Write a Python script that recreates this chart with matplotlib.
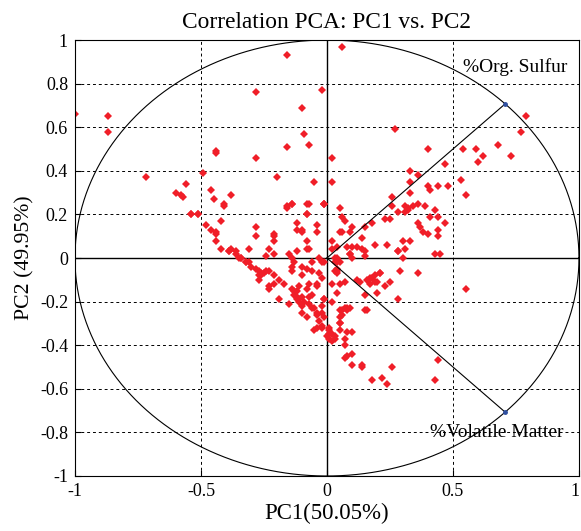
import numpy as np
import matplotlib.pyplot as plt
from matplotlib.transforms import ScaledTranslation

plt.rcParams['font.family'] = ['Liberation Serif', 'DejaVu Serif']

# scores (PC1, PC2)
pc1 = [
    -1.00, -0.87, -0.87, -0.72, -0.60, -0.58, -0.57, -0.56, -0.54, -0.51,
    -0.49, -0.46, -0.45, -0.44, -0.44, -0.41, -0.38, -0.28, -0.28, -0.20,
    -0.16, -0.16, -0.16, -0.14, -0.10, -0.09, -0.07, -0.08, -0.05, -0.02,
    -0.01, -0.08, -0.10,
    0.06, 0.27, 0.40, 0.54, 0.59, 0.62, 0.60, 0.68, 0.73, 0.77,
    0.79, 0.02, 0.02, -0.01, 0.05, 0.06, 0.07, 0.06, 0.05, 0.09,
    0.10, 0.02, 0.04, 0.02, 0.08, 0.10, 0.12, 0.14, 0.09, 0.15,
    0.10, 0.15, 0.14, 0.18, 0.19, 0.23, 0.25, 0.26, 0.26, 0.28,
    0.24, 0.28, 0.31, 0.32, 0.32, 0.31, 0.30, 0.33, 0.31, 0.33,
    0.33, 0.33, 0.36, 0.34, 0.36, 0.37, 0.38, 0.36, 0.40, 0.39,
    0.40, 0.41, 0.44, 0.41, 0.43, 0.44, 0.44, 0.44, 0.47, 0.48,
    0.47, 0.53, 0.55, 0.45,
    -0.01, 0.03, 0.04, 0.04, 0.05, 0.03, 0.04, 0.09, 0.15, 0.28,
    0.30, 0.43, -0.02, 0.05, 0.07, 0.12, 0.13, 0.17, 0.18, 0.19,
    0.17, 0.19, 0.20, 0.21, 0.16, 0.21, 0.23, 0.25, 0.29, 0.36,
    0.55, 0.15, 0.20, 0.28, -0.01, -0.02, 0.05, 0.08, 0.09, 0.15,
    0.16, -0.02, 0.05, 0.05, 0.08, 0.07, 0.10, 0.07, 0.10, 0.07,
    0.08, 0.10, 0.14, 0.14, 0.26, 0.44, 0.18, 0.22, 0.24, 0.43,
    -0.54, -0.51, -0.41, -0.48, -0.46, -0.44, -0.44, -0.44, -0.42, -0.42,
    -0.39, -0.38, -0.36, -0.34, -0.31, -0.32, -0.31, -0.28, -0.28, -0.21,
    -0.21, -0.21, -0.23, -0.24, -0.21, -0.16, -0.14, -0.07, -0.01, -0.08,
    -0.04, -0.04, -0.12, -0.12, -0.10, -0.08, -0.08, -0.07, -0.15, -0.12,
    -0.39, -0.36, -0.35,
    -0.34, -0.32, -0.30, -0.28, -0.27, -0.26, -0.25, -0.24, -0.26, -0.27,
    -0.27, -0.23, -0.21, -0.19, -0.17, -0.21, -0.23, -0.23, -0.19, -0.15,
    -0.14, -0.13, -0.12, -0.11, -0.13, -0.12, -0.11, -0.10, -0.09, -0.11,
    -0.12, -0.10, -0.10, -0.14, -0.13, -0.14, -0.14, -0.10, -0.08, -0.06,
    -0.10, -0.06, -0.03, -0.02, -0.03, -0.04, -0.04, -0.07, -0.08, -0.06,
    -0.07, -0.07, -0.06, -0.05, -0.04, -0.04, -0.08, -0.01, -0.03, -0.05,
    -0.04, -0.02, 0.01, 0.01, 0.01, 0.03, 0.02, 0.03, -0.01, 0.02,
    0.03, 0.04, 0.04, 0.05, 0.00, 0.02, 0.01, -0.02, 0.05, 0.06,
    0.08, 0.06, 0.07, 0.02, 0.04,
]
pc2 = [
    0.66, 0.65, 0.58, 0.37, 0.30, 0.29, 0.28, 0.34, 0.20, 0.20,
    0.39, 0.31, 0.27, 0.49, 0.48, 0.25, 0.29, 0.76, 0.46, 0.37,
    0.93, 0.51, 0.23, 0.25, 0.69, 0.57, 0.52, 0.25, 0.35, 0.77,
    0.25, 0.20, 0.13,
    0.97, 0.59, 0.50, 0.50, 0.50, 0.47, 0.44, 0.52, 0.47, 0.58,
    0.65, 0.46, 0.35, 0.25, 0.23, 0.19, 0.17, 0.12, 0.12, 0.12,
    0.14, 0.08, 0.05, 0.04, 0.05, 0.05, 0.05, 0.04, 0.02, 0.01,
    0.00, 0.14, 0.09, 0.16, 0.06, 0.18, 0.18, 0.24, 0.28, 0.21,
    0.06, 0.03, 0.24, 0.23, 0.22, 0.21, 0.08, 0.08, 0.04, 0.40,
    0.35, 0.30, 0.38, 0.24, 0.25, 0.14, 0.12, 0.16, 0.11, 0.24,
    0.33, 0.31, 0.33, 0.19, 0.22, 0.19, 0.13, 0.10, 0.16, 0.33,
    0.43, 0.36, 0.29, 0.02,
    -0.02, 0.00, -0.02, -0.05, -0.02, -0.06, -0.07, 0.02, 0.03, 0.03,
    0.00, 0.02, -0.09, -0.12, -0.11, -0.10, -0.11, -0.09, -0.09, -0.08,
    -0.12, -0.11, -0.11, -0.07, -0.10, -0.07, -0.13, -0.11, -0.06, -0.07,
    -0.14, -0.17, -0.16, -0.19, -0.19, -0.22, -0.24, -0.23, -0.23, -0.24,
    -0.24, -0.25, -0.30, -0.33, -0.34, -0.37, -0.34, -0.40, -0.44, -0.46,
    -0.45, -0.49, -0.49, -0.50, -0.50, -0.47, -0.56, -0.55, -0.58, -0.56,
    0.20, 0.20, 0.24, 0.15, 0.13, 0.12, 0.11, 0.08, 0.17, 0.04,
    0.03, 0.04, 0.03, 0.00, 0.04, -0.02, -0.02, 0.14, 0.10, 0.10,
    0.11, 0.08, 0.04, 0.01, 0.02, 0.24, 0.25, 0.25, 0.25, 0.20,
    0.15, 0.12, 0.16, 0.13, 0.12, 0.08, 0.04, 0.04, 0.02, 0.03,
    0.03, 0.02, 0.00,
    0.00, -0.02, -0.04, -0.05, -0.06, -0.07, -0.07, -0.06, -0.08, -0.10,
    -0.08, -0.06, -0.08, -0.10, -0.12, -0.12, -0.14, -0.13, -0.19, -0.21,
    -0.14, -0.15, -0.15, -0.13, -0.17, -0.18, -0.19, -0.18, -0.20, -0.20,
    -0.19, -0.22, -0.25, 0.00, -0.02, -0.04, -0.06, -0.04, -0.05, -0.06,
    -0.08, -0.02, 0.00, -0.02, -0.07, -0.13, -0.12, -0.12, -0.14, -0.17,
    -0.18, -0.21, -0.23, -0.23, -0.25, -0.26, -0.27, -0.19, -0.29, -0.33,
    -0.32, -0.32, -0.32, -0.35, -0.37, -0.37, -0.35, -0.36, -0.27, -0.12,
    -0.02, 0.00, -0.06, -0.27, -0.36, -0.38, -0.33, -0.31, -0.30, -0.26,
    -0.24, -0.24, -0.23, -0.20, -0.16,
]

# loadings
var_names = ['%Org. Sulfur', '%Volatile Matter']
load_x = [0.7071, 0.7071]
load_y = [0.7071, -0.7071]

fig = plt.figure(figsize=(5.81, 5.31), dpi=100)
ax = fig.add_axes([0.129, 0.1036, 0.8675, 0.821])

t = np.linspace(0, 2 * np.pi, 200)
ax.plot(np.cos(t), np.sin(t), color='black', lw=0.8)
ax.axhline(0, color='black', lw=1.0)
ax.axvline(0, color='black', lw=1.0)

ax.plot(pc1, pc2, 'D', color='#f01e28', markersize=3.6, markeredgewidth=0)

for name, lx, ly in zip(var_names, load_x, load_y):
    ax.plot([0, lx], [0, ly], color='black', lw=0.8)
    ax.plot(lx, ly, 'o', color='#3050a0', markersize=2.5)

ax.text(0.54, 0.875, var_names[0], fontsize=14, va='center', ha='left')
ax.text(0.41, -0.80, var_names[1], fontsize=14, va='center', ha='left')

ax.set_xlim(-1, 1)
ax.set_ylim(-1, 1)
ax.set_xticks([-1, -0.5, 0, 0.5, 1])
ax.set_xticklabels(['-1', '-0.5', '0', '0.5', '1'])
ax.set_yticks(np.round(np.arange(-1, 1.01, 0.2), 1))
ax.set_yticklabels(['-1', '-0.8', '-0.6', '-0.4', '-0.2', '0', '0.2', '0.4', '0.6', '0.8', '1'])
ax.tick_params(labelsize=13, direction='in', length=4, pad=5)
ax.grid(True, linestyle=(0, (3, 3)), color='black', lw=0.7)

# keep the last x label inside the picture
last = ax.get_xticklabels()[-1]
last.set_transform(last.get_transform() + ScaledTranslation(-4 / 100, 0, fig.dpi_scale_trans))

ax.set_title('Correlation PCA: PC1 vs. PC2', fontsize=16.8, pad=9)
ax.set_xlabel('PC1(50.05%)', fontsize=16.5, labelpad=2)
ax.set_ylabel('PC2 (49.95%)', fontsize=15.7, labelpad=4)

fig.savefig('out.png', dpi=100)
